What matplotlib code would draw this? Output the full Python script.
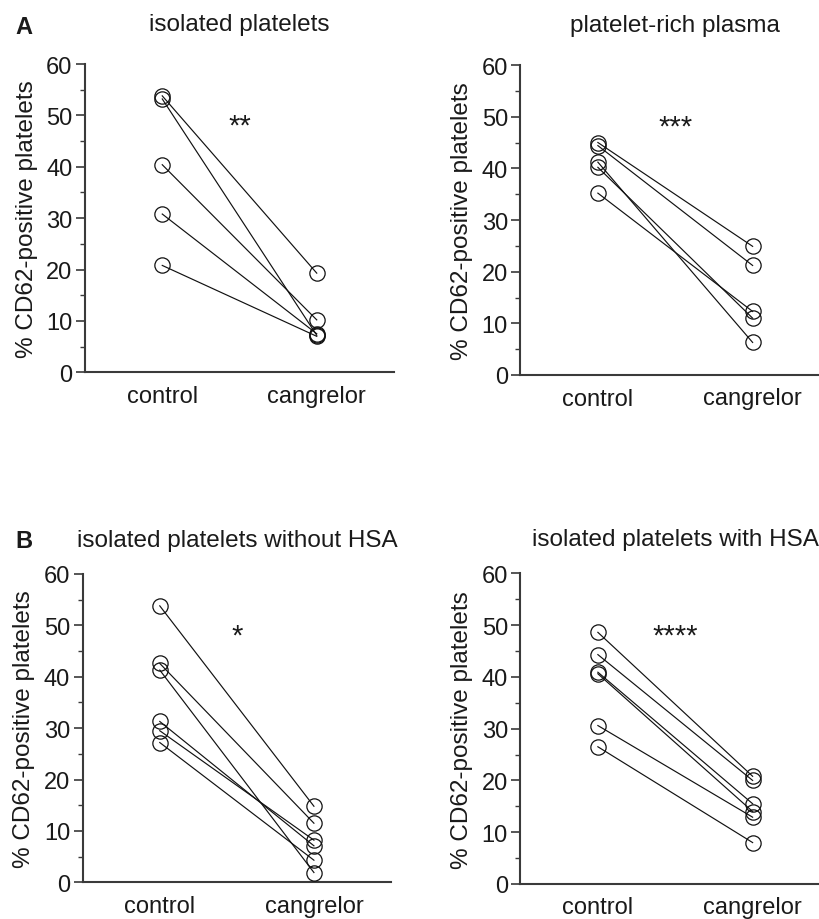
import matplotlib
matplotlib.use('Agg')
import matplotlib.pyplot as plt
from matplotlib.ticker import MultipleLocator

plt.rcParams['font.family'] = ['Liberation Sans', 'DejaVu Sans']

groups = ['control', 'cangrelor']

# paired values: control[i] -> cangrelor[i]
ctrl_iso = [53.8, 53.2, 40.4, 30.8, 20.8]
cang_iso = [19.3, 7.2, 10.2, 7.5, 7.0]

ctrl_prp = [45.0, 44.4, 41.2, 40.2, 35.2]
cang_prp = [24.9, 21.2, 6.3, 11.0, 12.3]

ctrl_nohsa = [53.8, 42.6, 41.3, 31.3, 29.5, 27.2]
cang_nohsa = [14.8, 11.5, 1.9, 7.1, 8.2, 4.3]

ctrl_hsa = [48.6, 44.3, 40.9, 40.6, 30.6, 26.5]
cang_hsa = [20.8, 20.0, 15.5, 14.0, 12.9, 8.0]

titles = ['isolated platelets', 'platelet-rich plasma',
          'isolated platelets without HSA', 'isolated platelets with HSA']
stars = ['**', '***', '*', '****']

W, H = 820, 920
fig = plt.figure(figsize=(W / 100, H / 100), dpi=100)

# axes boxes in pixels: left, right, y of 60, y of 0
boxes = [
    (85, 394, 65, 373.3),
    (520.5, 830, 66, 376),
    (82.7, 391, 575, 883.3),
    (520.5, 830, 574.3, 885),
]
panels = [(ctrl_iso, cang_iso), (ctrl_prp, cang_prp),
          (ctrl_nohsa, cang_nohsa), (ctrl_hsa, cang_hsa)]

txt = '#1a1a1a'
spine_c = '#3a3a3a'

for i, ((l, r, t, b), (c, g)) in enumerate(zip(boxes, panels)):
    ax = fig.add_axes([l / W, 1 - b / H, (r - l) / W, (b - t) / H])
    for x0, x1 in zip(c, g):
        ax.plot([0, 1], [x0, x1], color='#111111', lw=0.85, zorder=2)
    ax.plot([0] * len(c), c, 'o', ms=11, mfc='none', mec='#111111', mew=0.9, zorder=3)
    ax.plot([1] * len(g), g, 'o', ms=11, mfc='none', mec='#111111', mew=0.9, zorder=3)

    ax.set_xlim(-0.5, 1.5)
    ax.set_ylim(0, 60)
    ax.yaxis.set_major_locator(MultipleLocator(10))
    ax.yaxis.set_minor_locator(MultipleLocator(5))
    ax.set_xticks([0, 1])
    ax.set_xticklabels(groups)
    for s in ['top', 'right']:
        ax.spines[s].set_visible(False)
    for s in ['left', 'bottom']:
        ax.spines[s].set_linewidth(1.5)
        ax.spines[s].set_color(spine_c)
    ax.tick_params(axis='x', length=0, pad=9 if i < 3 else 8.5, labelsize=17, labelcolor=txt)
    ax.tick_params(axis='y', which='major', length=6.5, width=1.2, color=spine_c,
                   pad=2.5, labelsize=17, labelcolor=txt)
    ax.tick_params(axis='y', which='minor', length=3.6, width=1.0, color=spine_c)
    ax.set_ylabel('% CD62-positive platelets', fontsize=17.5, color=txt, labelpad=6)
    ax.text(0.5, 46.5, stars[i], ha='center', va='baseline', fontsize=21, color=txt)

    ty = t - 40 if i < 2 else t - 34
    fig.text((l + r) / 2 / W, 1 - ty / H, titles[i], ha='center', va='center',
             fontsize=17.5, color=txt)

fig.text(24 / W, 1 - 27 / H, 'A', ha='center', va='center', fontsize=17,
         fontweight='bold', color=txt)
fig.text(24 / W, 1 - 541 / H, 'B', ha='center', va='center', fontsize=17,
         fontweight='bold', color=txt)

fig.savefig('out.png', dpi=100, facecolor='white')
